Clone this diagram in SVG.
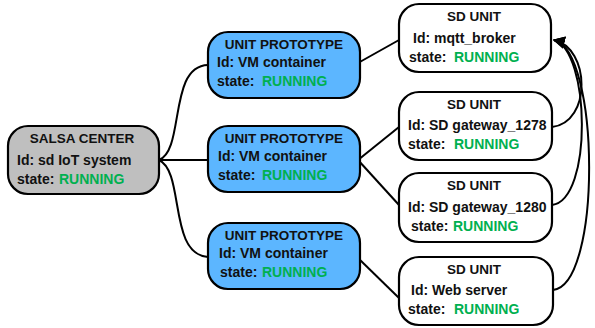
<svg xmlns="http://www.w3.org/2000/svg" width="595" height="328" viewBox="0 0 595 328">
<style>
.box{stroke:#000;stroke-width:2.2}
.center{fill:#bfbfbf}
.proto{fill:#5cb6ff}
.unit{fill:#fff}
text{font-family:"Liberation Sans",Arial,sans-serif;font-weight:bold;fill:#111}
.t{font-size:13.5px;text-anchor:middle}
.b{font-size:14px}
.g{fill:#00b050}
.c{fill:none;stroke:#000;stroke-width:2}
</style>
<defs>
<marker id="ah" viewBox="0 0 10 10" refX="9" refY="5" markerWidth="6" markerHeight="6" orient="auto" markerUnits="strokeWidth">
<path d="M0,0 L10,5 L0,10 z" fill="#000"/>
</marker>
</defs>
<g id="connectors">
<path class="c" d="M159,160 C185,150 168,66 208,65"/>
<path class="c" d="M159,160 L208,160"/>
<path class="c" d="M159,160 C185,172 168,254 208,257"/>
<path class="c" d="M358,63 L399,40"/>
<path class="c" d="M358,160 L399,127"/>
<path class="c" d="M358,160 L399,205"/>
<path class="c" d="M358,258 L399,298"/>
<path class="c" d="M552,127 C592,122 590,48 554,40" marker-end="url(#ah)"/>
<path class="c" d="M552,205 C593,200 590,50 554,40" marker-end="url(#ah)"/>
<path class="c" d="M553,290 C602,285 600,50 554,40" marker-end="url(#ah)"/>
</g>
<g id="salsa-center">
<rect class="box center" x="8" y="126" width="151" height="68" rx="20"/>
<text class="t" x="82" y="143">SALSA CENTER</text>
<text class="b" x="17" y="165">Id: sd IoT system</text>
<text class="b" x="17" y="184">state: <tspan class="g" x="59">RUNNING</tspan></text>
</g>
<g id="unit-prototype-1">
<rect class="box proto" x="208" y="32" width="152" height="66" rx="20"/>
<text class="t" x="284" y="49">UNIT PROTOTYPE</text>
<text class="b" x="217" y="67">Id: VM container</text>
<text class="b" x="217" y="86">state: <tspan class="g" x="262">RUNNING</tspan></text>
</g>
<g id="unit-prototype-2">
<rect class="box proto" x="208" y="126" width="152" height="66" rx="20"/>
<text class="t" x="284" y="143">UNIT PROTOTYPE</text>
<text class="b" x="218" y="161">Id: VM container</text>
<text class="b" x="218" y="180">state: <tspan class="g" x="262">RUNNING</tspan></text>
</g>
<g id="unit-prototype-3">
<rect class="box proto" x="208" y="223" width="152" height="66" rx="20"/>
<text class="t" x="284" y="240">UNIT PROTOTYPE</text>
<text class="b" x="219" y="258">Id: VM container</text>
<text class="b" x="220" y="277">state: <tspan class="g" x="262">RUNNING</tspan></text>
</g>
<g id="sd-unit-mqtt">
<rect class="box unit" x="399" y="4" width="152" height="68" rx="20"/>
<text class="t" x="474" y="21">SD UNIT</text>
<text class="b" x="413" y="43">Id: mqtt_broker</text>
<text class="b" x="409" y="62">state: <tspan class="g" x="454">RUNNING</tspan></text>
</g>
<g id="sd-unit-1278">
<rect class="box unit" x="399" y="92" width="153" height="68" rx="20"/>
<text class="t" x="474" y="109">SD UNIT</text>
<text class="b" x="408" y="130">Id: SD gateway_1278</text>
<text class="b" x="408" y="149">state: <tspan class="g" x="454">RUNNING</tspan></text>
</g>
<g id="sd-unit-1280">
<rect class="box unit" x="399" y="173" width="153" height="69" rx="20"/>
<text class="t" x="474" y="190">SD UNIT</text>
<text class="b" x="408" y="212">Id: SD gateway_1280</text>
<text class="b" x="411" y="231">state: <tspan class="g" x="453">RUNNING</tspan></text>
</g>
<g id="sd-unit-web">
<rect class="box unit" x="399" y="257" width="154" height="68" rx="20"/>
<text class="t" x="474" y="274">SD UNIT</text>
<text class="b" x="411" y="295">Id: Web server</text>
<text class="b" x="408" y="314">state: <tspan class="g" x="454">RUNNING</tspan></text>
</g>
</svg>
